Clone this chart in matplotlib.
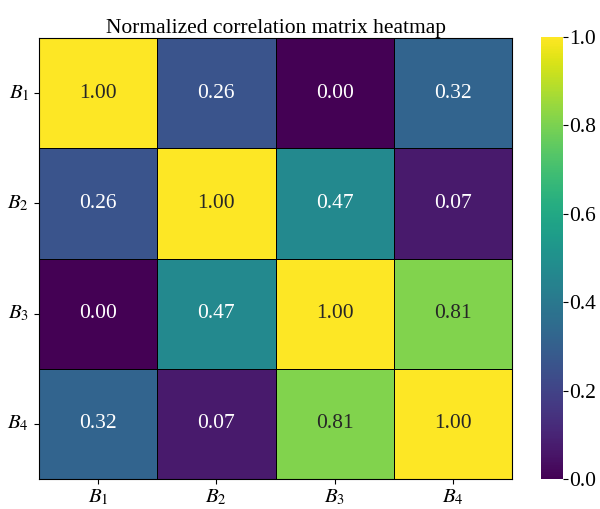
import numpy as np
import matplotlib.pyplot as plt
import seaborn as sns

labels = [r"$B_1$", r"$B_2$", r"$B_3$", r"$B_4$"]
corr = np.array([
    [1.00, 0.26, 0.00, 0.32],
    [0.26, 1.00, 0.47, 0.07],
    [0.00, 0.47, 1.00, 0.81],
    [0.32, 0.07, 0.81, 1.00],
])

plt.rcParams["font.family"] = ["Liberation Serif", "DejaVu Serif"]
plt.rcParams["mathtext.fontset"] = "stix"

fig = plt.figure(figsize=(6, 5.09), dpi=100)
ax = fig.add_axes([39 / 600, 1 - 479 / 509, 473 / 600, 441 / 509])
cax = fig.add_axes([541 / 600, 1 - 479 / 509, 22 / 600, 442 / 509])

sns.heatmap(corr, ax=ax, cbar_ax=cax, cmap="viridis", vmin=0, vmax=1,
            annot=True, fmt=".2f", annot_kws={"size": 15.5},
            linewidths=0.6, linecolor="black",
            xticklabels=labels, yticklabels=labels)

ax.set_title("Normalized correlation matrix heatmap", fontsize=15.5, pad=3)
ax.tick_params(labelsize=15)
ax.tick_params(axis="x", pad=3)
ax.set_yticklabels(labels, rotation=0)
for s in ax.spines.values():
    s.set_visible(True)
    s.set_color("black")
    s.set_linewidth(0.8)
cax.tick_params(labelsize=15.5, pad=1)

fig.savefig("out.png", dpi=100)
